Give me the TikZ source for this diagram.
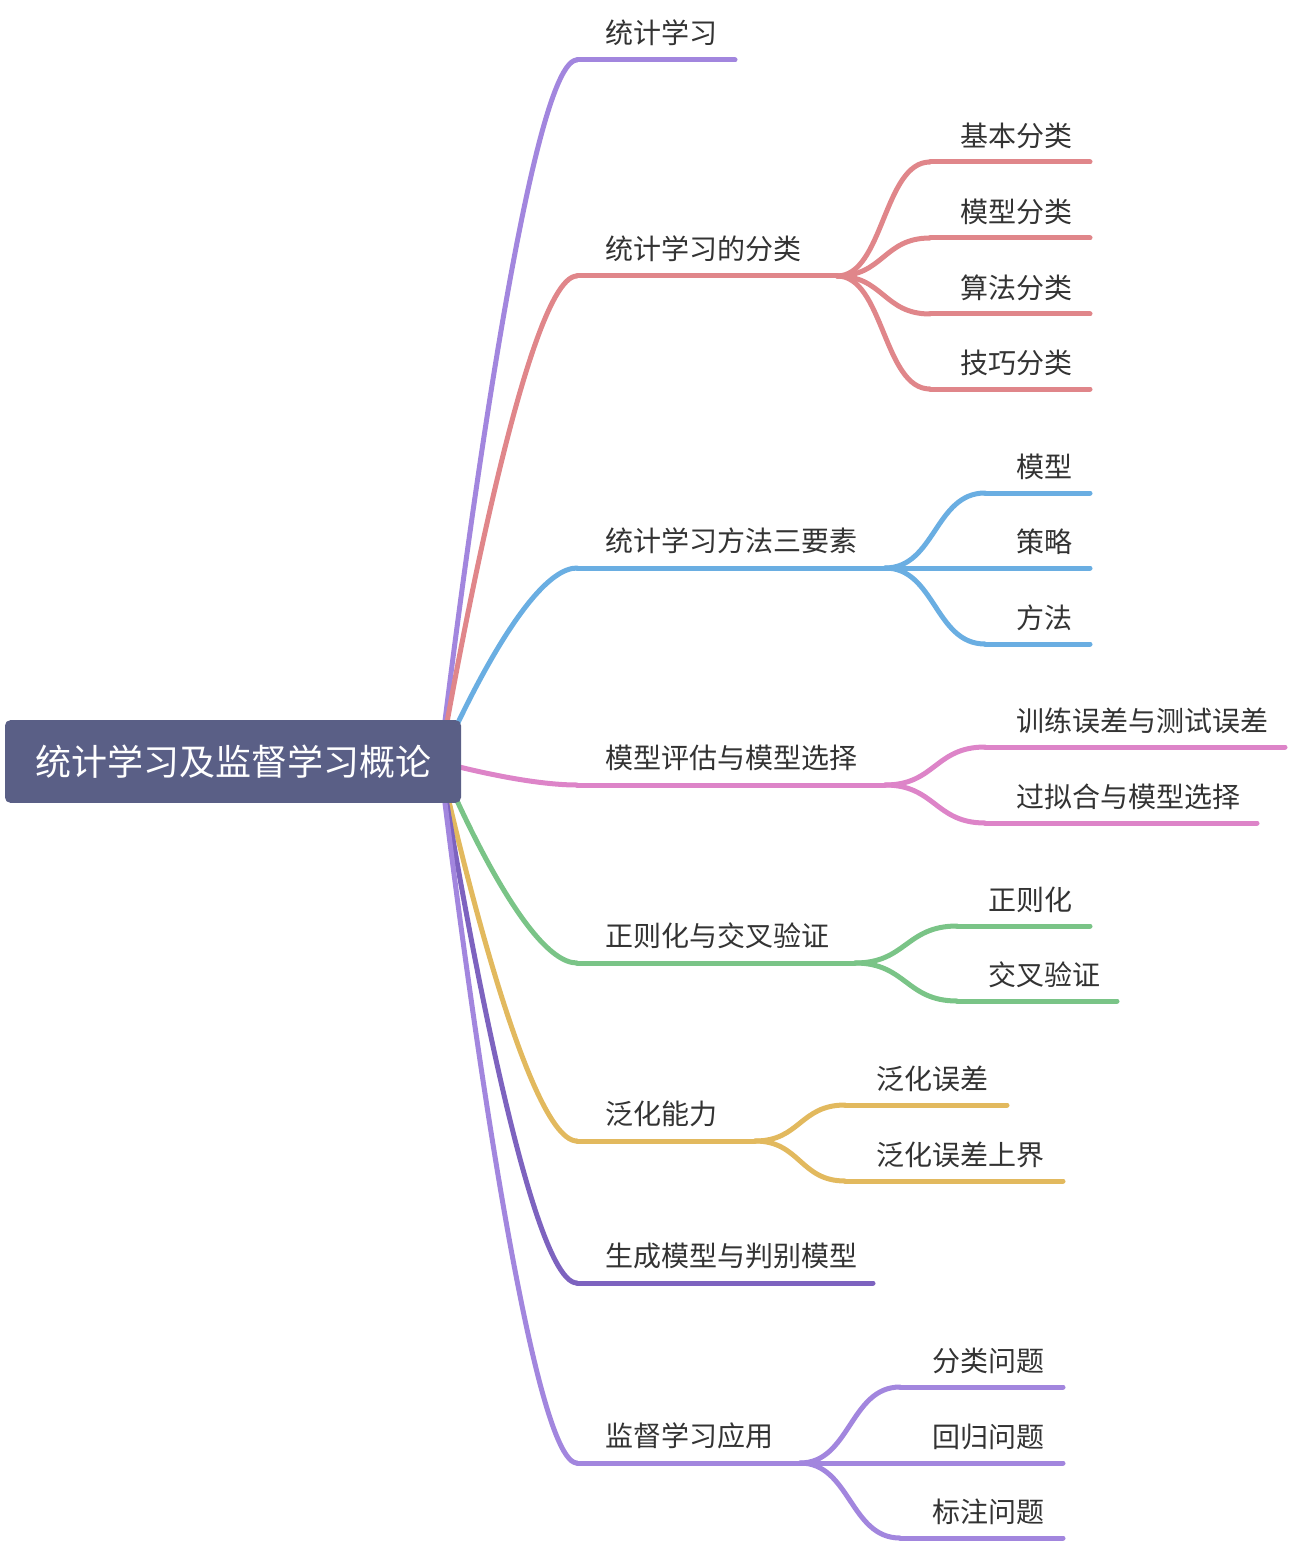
\documentclass[tikz,border=0pt]{standalone}
\usepackage{fontspec}
\setmainfont{Noto Sans CJK SC}
\usetikzlibrary{calc}
\definecolor{cPurple}{HTML}{A286DE}
\definecolor{cRed}{HTML}{E0868A}
\definecolor{cBlue}{HTML}{6AAEE2}
\definecolor{cPink}{HTML}{DD84C8}
\definecolor{cGreen}{HTML}{7AC487}
\definecolor{cYellow}{HTML}{E2B95E}
\definecolor{cDark}{HTML}{7D63BF}
\definecolor{cRoot}{HTML}{5A5F86}
\definecolor{cText}{HTML}{333333}
\newcommand\mmroot[3]{%
  \path (#1) -- (#2) coordinate[pos=0.6] (mmq);
  \draw[link,#3] (#1) .. controls (#1) and (mmq |- #2) .. (#2);}
\newcommand\mmkid[3]{%
  \path (#1) -- (#2) coordinate[pos=0.5] (mmq);
  \draw[link,#3] (#1) .. controls (mmq |- #1) and (mmq |- #2) .. (#2);}
\begin{document}
\begin{tikzpicture}[x=0.75pt,y=-0.75pt,
  link/.style={line width=3.75pt,line cap=round},
  lbl/.style={anchor=west,inner sep=0pt,text=cText,font=\fontsize{21pt}{25pt}\selectfont},
  rootbox/.style={fill=cRoot,rounded corners=4pt,text=white,minimum width=342pt,minimum height=62pt,inner sep=0pt,font=\fontsize{27pt}{32pt}\selectfont}]
\useasboundingbox (0,0) rectangle (1288,1544);
% coordinates
\coordinate (rs) at (440,762);
\coordinate (a1) at (577,60);   \coordinate (e1) at (735,60);
\coordinate (a2) at (577,276);  \coordinate (j2) at (837,276);
\coordinate (a3) at (577,568);  \coordinate (j3) at (885,568);
\coordinate (a4) at (577,785);  \coordinate (j4) at (885,785);
\coordinate (a5) at (577,963);  \coordinate (j5) at (855,963);
\coordinate (a6) at (577,1141); \coordinate (j6) at (755,1141);
\coordinate (a7) at (577,1283); \coordinate (e7) at (873,1283);
\coordinate (a8) at (577,1463); \coordinate (j8) at (800,1463);
% level 1 curves
\mmroot{rs}{a1}{cPurple}
\mmroot{rs}{a2}{cRed}
\mmroot{rs}{a3}{cBlue}
\mmroot{rs}{a4}{cPink}
\mmroot{rs}{a5}{cGreen}
\mmroot{rs}{a6}{cYellow}
\mmroot{rs}{a7}{cDark}
\mmroot{rs}{a8}{cPurple}
\draw[link,cPurple] (a1) -- (e1);
\draw[link,cRed] (a2) -- (j2);
\draw[link,cBlue] (a3) -- (j3);
\draw[link,cPink] (a4) -- (j4);
\draw[link,cGreen] (a5) -- (j5);
\draw[link,cYellow] (a6) -- (j6);
\draw[link,cDark] (a7) -- (e7);
\draw[link,cPurple] (a8) -- (j8);
% root
\node[rootbox] (root) at (233,761.5) {统计学习及监督学习概论};
% level 1 labels
\node[lbl] (t1) at (605,33) {统计学习};
\node[lbl] (t2) at (605,249) {统计学习的分类};
\node[lbl] (t3) at (605,541) {统计学习方法三要素};
\node[lbl] (t4) at (605,758) {模型评估与模型选择};
\node[lbl] (t5) at (605,936) {正则化与交叉验证};
\node[lbl] (t6) at (605,1114) {泛化能力};
\node[lbl] (t7) at (605,1256) {生成模型与判别模型};
\node[lbl] (t8) at (605,1436) {监督学习应用};
% children of 2
\foreach \i/\y/\t in {1/162/基本分类,2/238/模型分类,3/314/算法分类,4/389/技巧分类}{
  \coordinate (c2\i) at (930,\y); \coordinate (d2\i) at (1090,\y);
  \mmkid{j2}{c2\i}{cRed}
  \draw[link,cRed] (c2\i) -- (d2\i);
  \node[lbl] (t2\i) at (960,\y-26.5) {\t};
}
% children of 3
\foreach \i/\y/\t in {1/493/模型,2/568/策略,3/644/方法}{
  \coordinate (c3\i) at (985,\y); \coordinate (d3\i) at (1090,\y);
  \mmkid{j3}{c3\i}{cBlue}
  \draw[link,cBlue] (c3\i) -- (d3\i);
  \node[lbl] (t3\i) at (1016,\y-26.5) {\t};
}
% children of 4
\foreach \i/\y/\e/\t in {1/747/1285/训练误差与测试误差,2/823/1257/过拟合与模型选择}{
  \coordinate (c4\i) at (985,\y); \coordinate (d4\i) at (\e,\y);
  \mmkid{j4}{c4\i}{cPink}
  \draw[link,cPink] (c4\i) -- (d4\i);
  \node[lbl] (t4\i) at (1016,\y-26.5) {\t};
}
% children of 5
\foreach \i/\y/\e/\t in {1/926/1090/正则化,2/1001/1117/交叉验证}{
  \coordinate (c5\i) at (957,\y); \coordinate (d5\i) at (\e,\y);
  \mmkid{j5}{c5\i}{cGreen}
  \draw[link,cGreen] (c5\i) -- (d5\i);
  \node[lbl] (t5\i) at (988,\y-26.5) {\t};
}
% children of 6
\foreach \i/\y/\e/\t in {1/1105/1007/泛化误差,2/1181/1063/泛化误差上界}{
  \coordinate (c6\i) at (845,\y); \coordinate (d6\i) at (\e,\y);
  \mmkid{j6}{c6\i}{cYellow}
  \draw[link,cYellow] (c6\i) -- (d6\i);
  \node[lbl] (t6\i) at (876,\y-26.5) {\t};
}
% children of 8
\foreach \i/\y/\t in {1/1387/分类问题,2/1463/回归问题,3/1538/标注问题}{
  \coordinate (c8\i) at (900,\y); \coordinate (d8\i) at (1063,\y);
  \mmkid{j8}{c8\i}{cPurple}
  \draw[link,cPurple] (c8\i) -- (d8\i);
  \node[lbl] (t8\i) at (932,\y-26.5) {\t};
}
\end{tikzpicture}
\end{document}
